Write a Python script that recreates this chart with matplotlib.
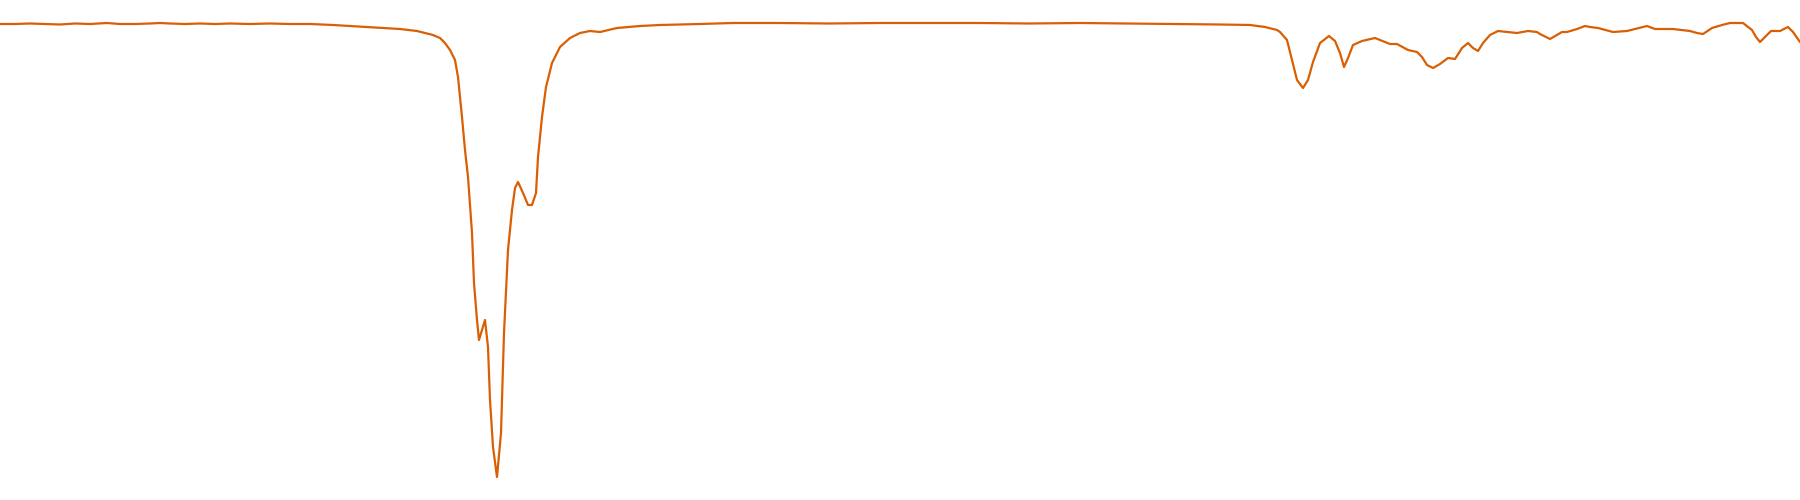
import matplotlib
matplotlib.use("Agg")
import matplotlib.pyplot as plt

# trace (x along the spectrum, y = depth from top, 0..500)
wave = [0, 15, 30, 45, 60, 75, 90, 107, 120, 135, 150, 160, 170, 185, 200,
        215, 230, 250, 270, 290, 310, 333, 367, 400, 417, 433, 440, 445, 450,
        455, 458, 462, 465, 468, 472, 474, 477, 479, 482, 485, 488, 490, 493,
        497, 501, 504, 508, 512, 515, 518, 523, 528, 532, 536, 538, 542, 546,
        552, 560, 570, 580, 590, 600, 617, 640, 660, 700, 733, 780, 830, 880,
        930, 980, 1030, 1080, 1130, 1183, 1220, 1250, 1265, 1277, 1280, 1287,
        1292, 1297, 1303, 1308, 1313, 1320, 1329, 1335, 1340, 1344, 1348,
        1353, 1362, 1375, 1390, 1397, 1408, 1417, 1422, 1427, 1433, 1440,
        1448, 1455, 1462, 1468, 1473, 1478, 1483, 1490, 1498, 1507, 1517,
        1528, 1537, 1540, 1550, 1562, 1567, 1577, 1585, 1590, 1598, 1613,
        1627, 1635, 1647, 1655, 1673, 1690, 1697, 1703, 1712, 1722, 1730,
        1743, 1752, 1756, 1760, 1765, 1771, 1780, 1788, 1793, 1800]
depth = [24, 24, 23.5, 24, 24.5, 23.5, 24, 23, 24, 24, 23.5, 23, 23.5, 24, 23.5,
         24, 23.5, 24, 23.5, 24, 24, 25, 27, 29, 31, 35, 38, 43, 50,
         60, 77, 117, 150, 177, 233, 283, 320, 340, 330, 320, 347, 400, 447,
         477, 433, 333, 250, 210, 188, 182, 193, 205, 205, 193, 157, 117, 87,
         63, 47, 38, 33, 31, 32, 28, 26, 25, 24, 23, 23, 23.5, 23, 23,
         23, 23.5, 23, 23.5, 24, 24.5, 25, 27, 30, 32, 40,
         60, 80, 88, 80, 62, 43, 36, 41, 53, 67, 58,
         45, 41, 38, 44, 44, 50, 52, 57, 65, 68, 64,
         58, 59, 48, 43, 48, 51, 43, 35, 31, 32, 33,
         31, 32, 34, 39, 32, 32, 29, 26, 27, 28, 32,
         31, 29, 26, 29, 29, 31, 33, 34, 28, 25, 23,
         23, 30, 37, 42, 37, 31, 31, 27, 32, 42]

fig = plt.figure(figsize=(18, 5), dpi=100)
ax = fig.add_axes([0, 0, 1, 1])
ax.plot(wave, depth, color="#d95f02", lw=1.6,
        solid_joinstyle="round", solid_capstyle="round")
ax.set_xlim(0, 1800)
ax.set_ylim(500, 0)
ax.axis("off")
fig.savefig("out.png", dpi=100, facecolor="white")
